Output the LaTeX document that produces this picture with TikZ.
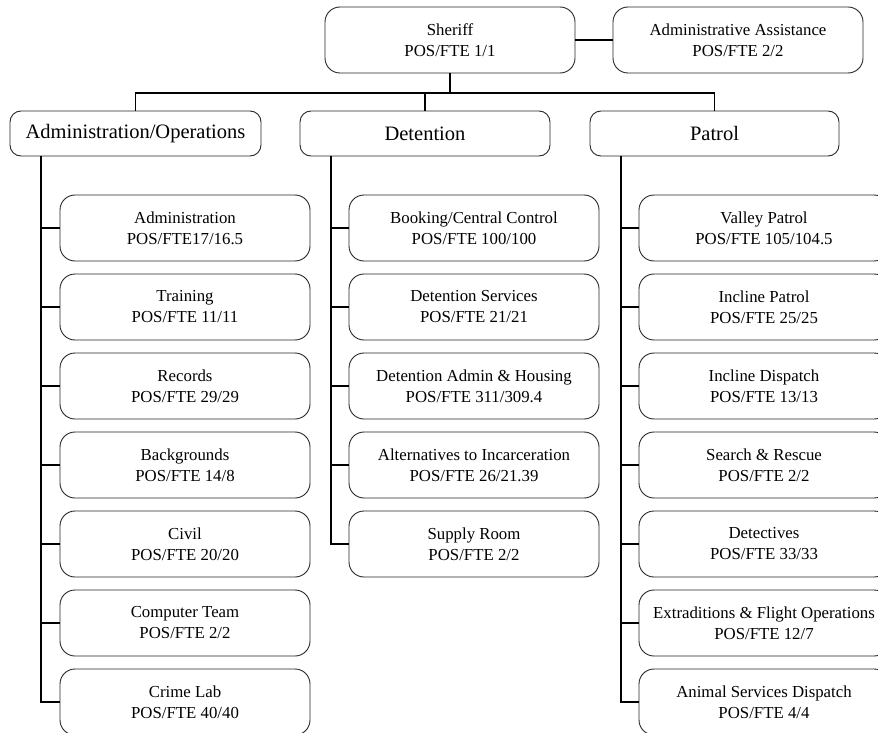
\documentclass[tikz,border=0pt]{standalone}
\usepackage{fontspec}
\setmainfont{Liberation Serif}
\begin{document}
\begin{tikzpicture}[x=1pt,y=-1pt,
  unit/.style={draw=black!85, line width=0.9pt, rounded corners=15pt,
    minimum width=250pt, minimum height=66pt, inner sep=0pt, align=center,
    font=\fontsize{16.8}{21}\selectfont},
  division/.style={draw=black!85, line width=0.9pt, rounded corners=11pt,
    minimum width=250pt, minimum height=45pt, inner sep=0pt,
    font=\fontsize{20.5}{24}\selectfont},
  link/.style={line width=1.5pt}]
\clip (0,0) rectangle (878,733);

% top level
\node[unit] (sheriff) at (450,40) {Sheriff\\POS/FTE 1/1};
\node[unit] (assist) at (738,40) {Administrative Assistance\\POS/FTE 2/2};

% divisions
\node[division, minimum width=251pt] (admops) at (135.5,133.5) {Administration/Operations};
\node[division] (det) at (425,133.5) {Detention};
\node[division, minimum width=249pt] (pat) at (714.5,133.5) {Patrol};

% Administration/Operations units
\node[unit] (a1) at (185,228) {Administration\\POS/FTE17/16.5};
\node[unit] (a2) at (185,307) {Training\\POS/FTE 11/11};
\node[unit] (a3) at (185,386) {Records\\POS/FTE 29/29};
\node[unit] (a4) at (185,465) {Backgrounds\\POS/FTE 14/8};
\node[unit] (a5) at (185,544) {Civil\\POS/FTE 20/20};
\node[unit] (a6) at (185,623) {Computer Team\\POS/FTE 2/2};
\node[unit] (a7) at (185,702) {Crime Lab\\POS/FTE 40/40};

% Detention units
\node[unit] (d1) at (474,228) {Booking/Central Control\\POS/FTE 100/100};
\node[unit] (d2) at (474,307) {Detention Services\\POS/FTE 21/21};
\node[unit] (d3) at (474,386) {Detention Admin \& Housing\\POS/FTE 311/309.4};
\node[unit] (d4) at (474,465) {Alternatives to Incarceration\\POS/FTE 26/21.39};
\node[unit] (d5) at (474,544) {Supply Room\\POS/FTE 2/2};

% Patrol units
\node[unit] (p1) at (764,228) {Valley Patrol\\POS/FTE 105/104.5};
\node[unit] (p2) at (764,307) {Incline Patrol\\POS/FTE 25/25};
\node[unit] (p3) at (764,386) {Incline Dispatch\\POS/FTE 13/13};
\node[unit] (p4) at (764,465) {Search \& Rescue\\POS/FTE 2/2};
\node[unit] (p5) at (764,544) {Detectives\\POS/FTE 33/33};
\node[unit] (p6) at (764,623) {Extraditions \& Flight Operations\\POS/FTE 12/7};
\node[unit] (p7) at (764,702) {Animal Services Dispatch\\POS/FTE 4/4};

% connectors from the Sheriff
\coordinate (bus) at (450,93);
\draw[link] (sheriff.east) -- (assist.west);
\draw[link] (sheriff.south) -- (sheriff.south |- bus);
\draw[link] (admops.north) -- (admops.north |- bus) -- (pat.north |- bus) -- (pat.north);
\draw[link] (det.north) -- (det.north |- bus);

% spines down each division
\coordinate (aspine) at (41,156);
\coordinate (dspine) at (331,156);
\coordinate (pspine) at (621,156);
\draw[link] (aspine) |- (a7.west);
\foreach \n in {a1,a2,a3,a4,a5,a6}
  \draw[link] (\n.west) -- (\n.west -| aspine);
\draw[link] (dspine) |- (d5.west);
\foreach \n in {d1,d2,d3,d4}
  \draw[link] (\n.west) -- (\n.west -| dspine);
\draw[link] (pspine) |- (p7.west);
\foreach \n in {p1,p2,p3,p4,p5,p6}
  \draw[link] (\n.west) -- (\n.west -| pspine);
\end{tikzpicture}
\end{document}
